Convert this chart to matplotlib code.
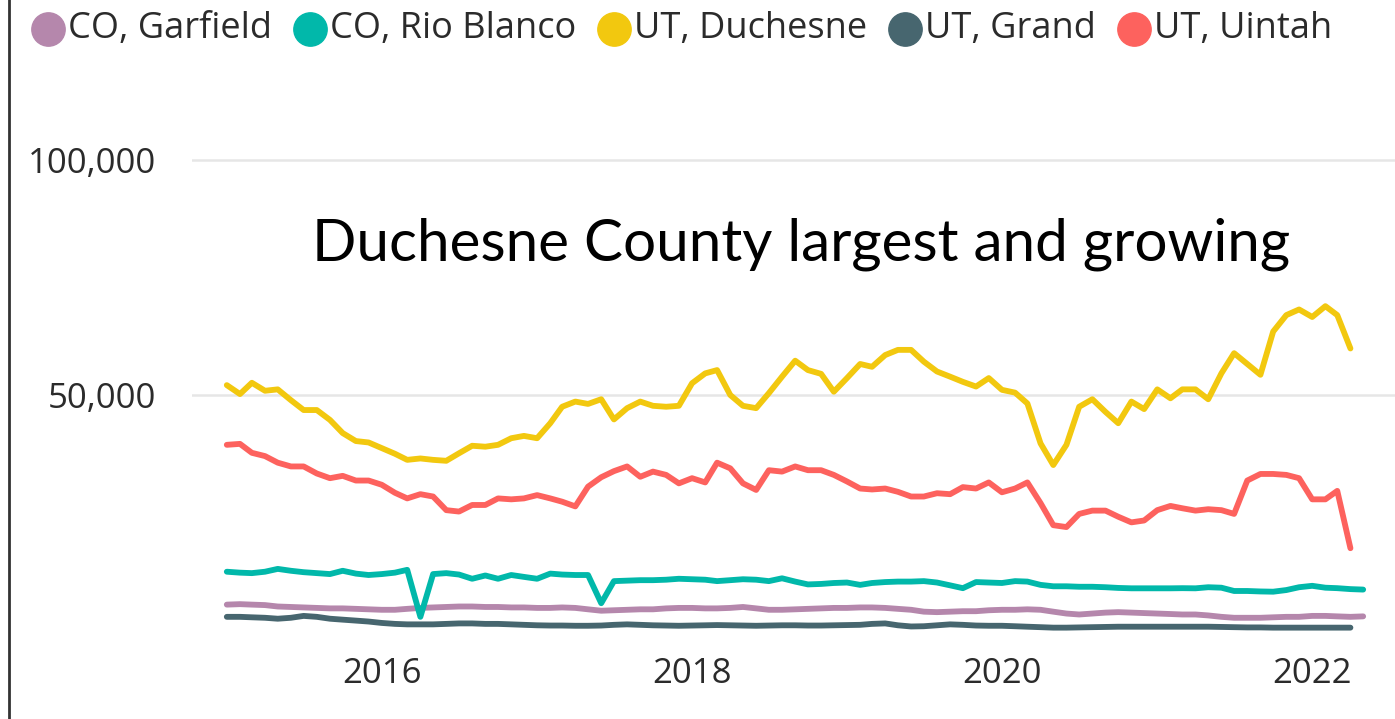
import numpy as np
import pandas as pd
import matplotlib
matplotlib.use('Agg')
import matplotlib.pyplot as plt
from matplotlib.lines import Line2D
from matplotlib.ticker import FuncFormatter

# ---------------- data ----------------
months = pd.date_range('2015-01-01', periods=89, freq='MS')

series_names = ['CO, Garfield', 'CO, Rio Blanco', 'UT, Duchesne', 'UT, Grand', 'UT, Uintah']

garfield = [5400, 5500, 5400, 5300, 5000, 4900, 4800, 4700, 4600, 4600,
            4500, 4400, 4300, 4300, 4500, 4700, 4800, 4900, 5000, 5000,
            4900, 4900, 4800, 4800, 4700, 4700, 4800, 4700, 4400, 4100,
            4200, 4300, 4400, 4400, 4600, 4700, 4700, 4600, 4600, 4700,
            4900, 4600, 4300, 4300, 4400, 4500, 4600, 4700, 4700, 4800,
            4800, 4700, 4500, 4300, 3900, 3800, 3900, 4000, 4000, 4200,
            4300, 4300, 4400, 4300, 3900, 3500, 3300, 3500, 3700, 3800,
            3700, 3600, 3500, 3400, 3300, 3300, 3100, 2800, 2600, 2600,
            2600, 2700, 2800, 2800, 3000, 3000, 2900, 2800, 2900]

rio_blanco = [12400, 12200, 12100, 12400, 13000, 12600, 12300, 12100, 11900, 12600,
              12000, 11700, 11900, 12200, 12800, 2800, 11900, 12100, 11800, 10900,
              11600, 10900, 11700, 11300, 10900, 12000, 11800, 11700, 11700, 5700,
              10400, 10500, 10600, 10600, 10700, 10900, 10800, 10700, 10400, 10600,
              10800, 10700, 10400, 11000, 10300, 9700, 9800, 10000, 10100, 9600,
              10000, 10200, 10300, 10300, 10400, 10100, 9500, 8900, 10200, 10100,
              10000, 10400, 10300, 9600, 9300, 9300, 9200, 9200, 9100, 8950,
              8870, 8870, 8870, 8870, 8900, 8870, 9100, 9000, 8300, 8300,
              8200, 8150, 8500, 9100, 9400, 9000, 8900, 8700, 8600]

duchesne = [52100, 50200, 52600, 50900, 51200, 48900, 46800, 46800, 44700, 41900,
            40200, 39900, 38700, 37500, 36200, 36500, 36200, 36000, 37600, 39200,
            39000, 39400, 40800, 41300, 40800, 44000, 47500, 48600, 48100, 49100,
            44800, 47200, 48600, 47700, 47500, 47700, 52500, 54600, 55300, 50000,
            47700, 47200, 50400, 53900, 57300, 55300, 54500, 50700, 53600, 56600,
            56000, 58500, 59600, 59600, 57100, 55000, 53900, 52800, 51800, 53600,
            51100, 50500, 48200, 39700, 35100, 39400, 47500, 49100, 46400, 44000,
            48600, 47000, 51200, 49300, 51200, 51200, 49100, 54600, 58900, 56600,
            54300, 63500, 67000, 68200, 66600, 68900, 67000, 59900]

grand = [2800, 2800, 2700, 2600, 2400, 2600, 3000, 2800, 2400, 2200,
         2000, 1800, 1500, 1300, 1200, 1200, 1200, 1300, 1400, 1400,
         1300, 1300, 1200, 1100, 1000, 950, 950, 900, 900, 950,
         1100, 1200, 1100, 1000, 950, 900, 950, 1000, 1050, 1000,
         950, 900, 950, 1000, 1000, 950, 950, 1000, 1050, 1100,
         1300, 1400, 1000, 750, 800, 1000, 1200, 1100, 950, 900,
         900, 800, 700, 600, 500, 500, 550, 600, 650, 700,
         700, 700, 700, 700, 700, 700, 700, 650, 600, 550,
         550, 500, 500, 500, 500, 500, 500, 500]

uintah = [39400, 39600, 37700, 37000, 35600, 34800, 34800, 33300, 32300, 32800,
          31800, 31800, 30900, 29200, 28000, 28900, 28400, 25500, 25200, 26600,
          26600, 28000, 27800, 28000, 28700, 28000, 27300, 26300, 30500, 32500,
          33800, 34800, 32600, 33700, 33000, 31200, 32300, 31400, 35600, 34400,
          31200, 29800, 34000, 33700, 34800, 34000, 34000, 33000, 31600, 30100,
          29900, 30100, 29400, 28400, 28400, 29100, 28900, 30400, 30100, 31400,
          29300, 30100, 31400, 27000, 22300, 21900, 24700, 25400, 25400, 24100,
          22900, 23300, 25500, 26400, 25900, 25400, 25700, 25500, 24700, 31800,
          33200, 33200, 33000, 32300, 27800, 27800, 29600, 17400]

series_values = [garfield, rio_blanco, duchesne, grand, uintah]
series_colors = ['#B587AC', '#01B8AA', '#F2C80F', '#47666F', '#FD625E']

x_tick_dates = ['2016-01-01', '2018-01-01', '2020-01-01', '2022-01-01']
x_tick_labels = ['2016', '2018', '2020', '2022']
y_ticks = [50000, 100000]
annotation = 'Duchesne County largest and growing'

# ---------------- figure ----------------
W, H = 1395, 719
fig = plt.figure(figsize=(W / 100, H / 100), dpi=100)
fig.patch.set_facecolor('white')

ax_left, ax_right, ax_top, ax_bottom = 192, 1395, 145, 635
ax = fig.add_axes([ax_left / W, 1 - ax_bottom / H, (ax_right - ax_left) / W, (ax_bottom - ax_top) / H])

def padded(v):
    return list(v) + [np.nan] * (len(months) - len(v))

for name, vals, col in zip(series_names, series_values, series_colors):
    ax.plot(months, padded(vals), color=col, lw=4.2, solid_joinstyle='round',
            solid_capstyle='round', label=name, zorder=3)

# axis limits (0 at pixel 630, 50k per 235 px)
px_per_val = 235 / 50000
ax.set_ylim(-(ax_bottom - 630) / px_per_val, (630 - ax_top) / px_per_val)
ax.set_xlim(pd.Timestamp('2014-10-11'), pd.Timestamp('2022-07-15'))

ax.set_yticks(y_ticks)
ax.yaxis.set_major_formatter(FuncFormatter(lambda v, p: f'{int(v):,}'))
ax.set_xticks(pd.to_datetime(x_tick_dates))
ax.set_xticklabels(x_tick_labels)

ax.grid(axis='y', color='#E6E6E6', lw=1.8, zorder=0)
ax.grid(axis='x', visible=False)
for s in ax.spines.values():
    s.set_visible(False)

tick_font = 'Open Sans'
text_color = '#2b2b2b'
ax.tick_params(axis='both', length=0, labelsize=25, labelcolor=text_color)
ax.tick_params(axis='y', pad=26)
ax.tick_params(axis='x', pad=16)
for lab in ax.get_xticklabels() + ax.get_yticklabels():
    lab.set_fontfamily(tick_font)

# ---------------- legend (manual, top row) ----------------
fig.canvas.draw()
renderer = fig.canvas.get_renderer()
x = 68
ly = 1 - 29 / H
for name, col in zip(series_names, series_colors):
    fig.add_artist(Line2D([(x - 20) / W], [ly], marker='o', ms=24, color=col,
                          linestyle='none', transform=fig.transFigure))
    t = fig.text(x / W, ly, name, ha='left', va='center', fontsize=26,
                 fontfamily=tick_font, color=text_color)
    w = t.get_window_extent(renderer).width
    x += w + 58

# ---------------- annotation ----------------
ann = fig.text(801 / W, 1 - 244 / H, annotation, ha='center', va='center',
               fontsize=40, fontfamily='Lato', color='black')
w = ann.get_window_extent(renderer).width
ann.set_fontsize(40 * 978 / w)

# ---------------- left border ----------------
fig.add_artist(Line2D([9 / W, 9 / W], [0, 1], color='#333333', lw=2, transform=fig.transFigure))

fig.savefig('out.png', dpi=100, facecolor='white')
